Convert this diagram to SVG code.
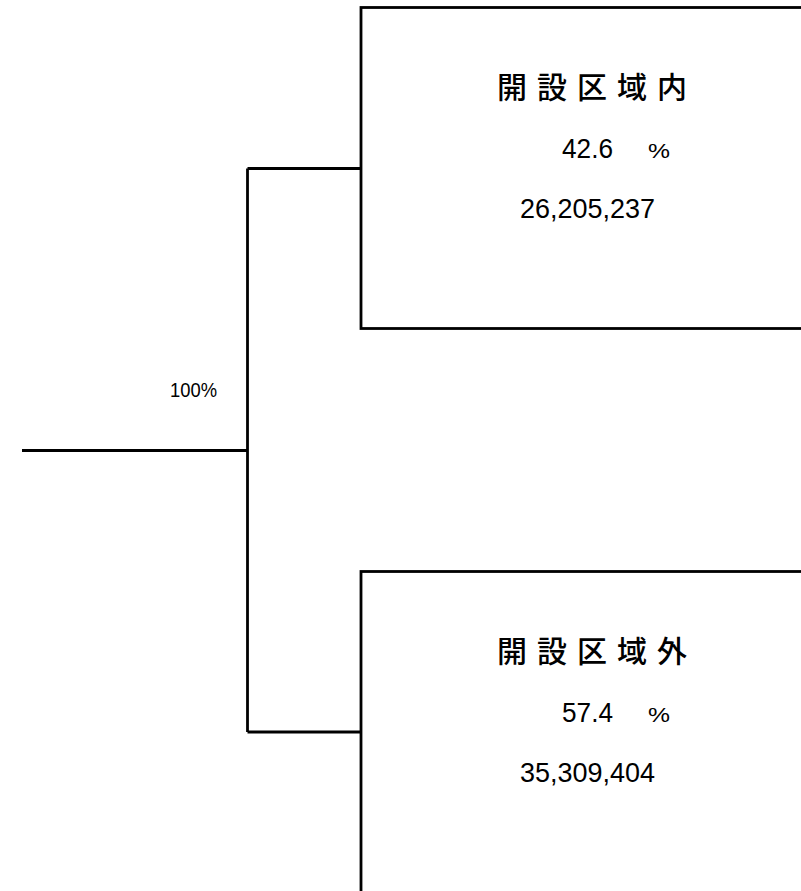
<svg xmlns="http://www.w3.org/2000/svg" width="801" height="891" viewBox="0 0 801 891">
<style>
.box{fill:#fff;stroke:#000;stroke-width:2.8}
.ln{fill:none;stroke:#000;stroke-width:2.8}
.ttl{font-family:"Noto Sans CJK JP","Noto Sans CJK SC",sans-serif;font-size:30px;font-weight:500;letter-spacing:10px;fill:#000}
.num{font-family:"Liberation Sans",Arial,sans-serif;font-size:28px;fill:#000}
.pct{font-family:"Liberation Sans",Arial,sans-serif;font-size:21px;fill:#000}
</style>
<rect width="801" height="891" fill="#fff"/>
<g id="connectors">
<polyline class="ln" points="22,450.5 247.5,450.5"/>
<polyline class="ln" points="247.5,168.5 247.5,732"/>
<polyline class="ln" points="247.5,168.5 361,168.5"/>
<polyline class="ln" points="247.5,732 361,732"/>
</g>
<g id="root-label">
<text class="pct" x="170" y="397" textLength="47" lengthAdjust="spacingAndGlyphs">100%</text>
</g>
<g id="node-inside">
<rect class="box" x="361" y="7.5" width="460" height="321"/>
<text class="ttl" x="497" y="98">開設区域内</text>
<text class="num" x="562" y="158" textLength="51" lengthAdjust="spacingAndGlyphs">42.6</text>
<text class="pct" x="648" y="158" textLength="22" lengthAdjust="spacingAndGlyphs">%</text>
<text class="num" x="520" y="218" textLength="135" lengthAdjust="spacingAndGlyphs">26,205,237</text>
</g>
<g id="node-outside">
<rect class="box" x="361" y="571.5" width="460" height="340"/>
<text class="ttl" x="497" y="662">開設区域外</text>
<text class="num" x="562" y="722" textLength="51" lengthAdjust="spacingAndGlyphs">57.4</text>
<text class="pct" x="648" y="722" textLength="22" lengthAdjust="spacingAndGlyphs">%</text>
<text class="num" x="520" y="782" textLength="135" lengthAdjust="spacingAndGlyphs">35,309,404</text>
</g>
</svg>
